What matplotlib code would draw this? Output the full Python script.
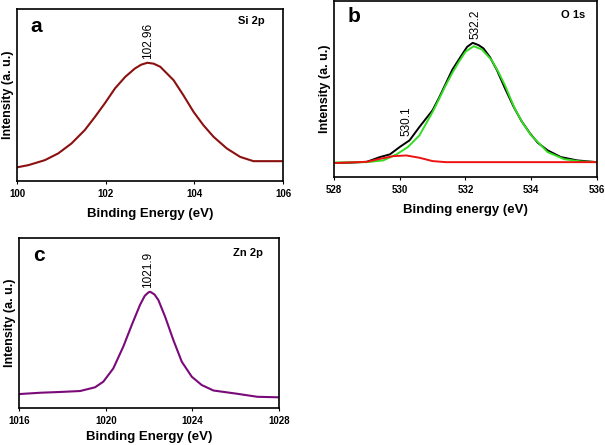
import matplotlib
matplotlib.use('Agg')
import matplotlib.pyplot as plt

plt.rcParams['font.family'] = ['Liberation Sans', 'DejaVu Sans']

# Si 2p
si_x = [100.0, 100.26, 100.63, 100.93, 101.23, 101.53, 101.76, 101.98, 102.21, 102.44, 102.66,
        102.8, 102.94, 103.08, 103.23, 103.53, 103.75, 103.98, 104.2, 104.43, 104.73, 105.03,
        105.33, 106.0]
si_y = [0.080, 0.093, 0.122, 0.161, 0.219, 0.297, 0.374, 0.452, 0.539, 0.606, 0.655,
        0.677, 0.688, 0.683, 0.665, 0.587, 0.500, 0.403, 0.326, 0.258, 0.190, 0.141,
        0.116, 0.116]

# O 1s
o_x = [528.0, 528.5, 529.0, 529.4, 529.7, 530.0, 530.3, 530.6, 531.0, 531.2, 531.4, 531.6, 531.85,
       532.05, 532.22, 532.4, 532.55, 532.75, 532.96, 533.2, 533.47, 533.7, 533.97, 534.2, 534.5,
       534.9, 535.4, 536.0]
o_y = [0.080, 0.082, 0.087, 0.114, 0.129, 0.171, 0.209, 0.285, 0.380, 0.452, 0.531, 0.610, 0.683,
       0.740, 0.763, 0.750, 0.731, 0.680, 0.607, 0.505, 0.398, 0.320, 0.247, 0.195, 0.152,
       0.114, 0.095, 0.085]
o_fit_x = [528.0, 529.0, 529.5, 529.9, 530.25, 530.6, 531.0, 531.2, 531.4, 531.6, 531.8, 532.0,
           532.25, 532.5, 532.8, 533.0, 533.2, 533.5, 533.75, 534.0, 534.5, 535.0, 535.5, 536.0]
o_fit_y = [0.083, 0.085, 0.095, 0.129, 0.171, 0.237, 0.370, 0.445, 0.522, 0.592, 0.655, 0.712,
           0.744, 0.725, 0.664, 0.598, 0.522, 0.389, 0.305, 0.237, 0.142, 0.102, 0.089, 0.085]
o_low_x = [528.0, 529.0, 529.4, 529.8, 530.2, 530.6, 531.0, 531.4, 536.0]
o_low_y = [0.080, 0.087, 0.104, 0.119, 0.123, 0.110, 0.091, 0.085, 0.085]

# Zn 2p
zn_x = [1016, 1017, 1018, 1018.82, 1019.51, 1019.89, 1020.35, 1020.81, 1021.2, 1021.58, 1021.8,
        1021.97, 1022.05, 1022.25, 1022.43, 1022.74, 1023.12, 1023.51, 1023.97, 1024.43, 1024.97,
        1026, 1027, 1028]
zn_y = [0.082, 0.090, 0.095, 0.100, 0.122, 0.155, 0.233, 0.361, 0.488, 0.606, 0.660,
        0.680, 0.684, 0.668, 0.635, 0.537, 0.400, 0.272, 0.184, 0.135, 0.103,
        0.085, 0.066, 0.063]

fig = plt.figure(figsize=(6.05, 4.45), dpi=100)

def style(ax, xlim, xticks, xlabel, xpad):
    ax.set_xlim(xlim)
    ax.set_ylim(0, 1)
    ax.set_xticks(xticks)
    ax.set_yticks([])
    ax.tick_params(axis='x', length=2, labelsize=7, pad=4)
    for lab in ax.get_xticklabels():
        lab.set_fontweight('bold')
    for s in ax.spines.values():
        s.set_linewidth(1.2)
    ax.set_xlabel(xlabel, fontsize=9.5, fontweight='bold', labelpad=xpad)
    ax.set_ylabel('Intensity (a. u.)', fontsize=9, fontweight='bold', labelpad=2)

ax1 = fig.add_axes([0.028, 0.593, 0.44, 0.3865])
ax1.plot(si_x, si_y, color='#8b1010', lw=1.5)
style(ax1, (100, 106), [100, 102, 104, 106], 'Binding Energy (eV)', 6)
ax1.text(0.05, 0.9, 'a', transform=ax1.transAxes, fontsize=15, fontweight='bold', va='center')
ax1.text(0.88, 0.93, 'Si 2p', transform=ax1.transAxes, fontsize=8, fontweight='bold', ha='center', va='center')
ax1.annotate('102.96', (102.96, 0.688), xytext=(0, 3), textcoords='offset points',
             rotation=90, ha='center', va='bottom', fontsize=8.5)

ax2 = fig.add_axes([0.552, 0.602, 0.4347, 0.3955])
ax2.plot(o_x, o_y, color='black', lw=1.4)
ax2.plot(o_fit_x, o_fit_y, color='#33dd22', lw=1.4)
ax2.plot(o_low_x, o_low_y, color='#ee1111', lw=1.4)
style(ax2, (528, 536), [528, 530, 532, 534, 536], 'Binding energy (eV)', 6)
ax2.text(0.05, 0.91, 'b', transform=ax2.transAxes, fontsize=15, fontweight='bold', va='center')
ax2.text(0.91, 0.92, 'O 1s', transform=ax2.transAxes, fontsize=8, fontweight='bold', ha='center', va='center')
ax2.annotate('532.2', (532.3, 0.763), xytext=(0, 3), textcoords='offset points',
             rotation=90, ha='center', va='bottom', fontsize=8.5)
ax2.annotate('530.1', (530.2, 0.2), xytext=(0, 4), textcoords='offset points',
             rotation=90, ha='center', va='bottom', fontsize=8.5)

ax3 = fig.add_axes([0.0314, 0.0831, 0.43, 0.382])
ax3.plot(zn_x, zn_y, color='#7a0a7a', lw=1.5)
style(ax3, (1016, 1028), [1016, 1020, 1024, 1028], 'Binding Energy (eV)', 3)
ax3.text(0.055, 0.9, 'c', transform=ax3.transAxes, fontsize=15, fontweight='bold', va='center')
ax3.text(0.88, 0.91, 'Zn 2p', transform=ax3.transAxes, fontsize=8, fontweight='bold', ha='center', va='center')
ax3.annotate('1021.9', (1021.97, 0.684), xytext=(0, 3), textcoords='offset points',
             rotation=90, ha='center', va='bottom', fontsize=8.5)

fig.savefig('out.png', dpi=100)
